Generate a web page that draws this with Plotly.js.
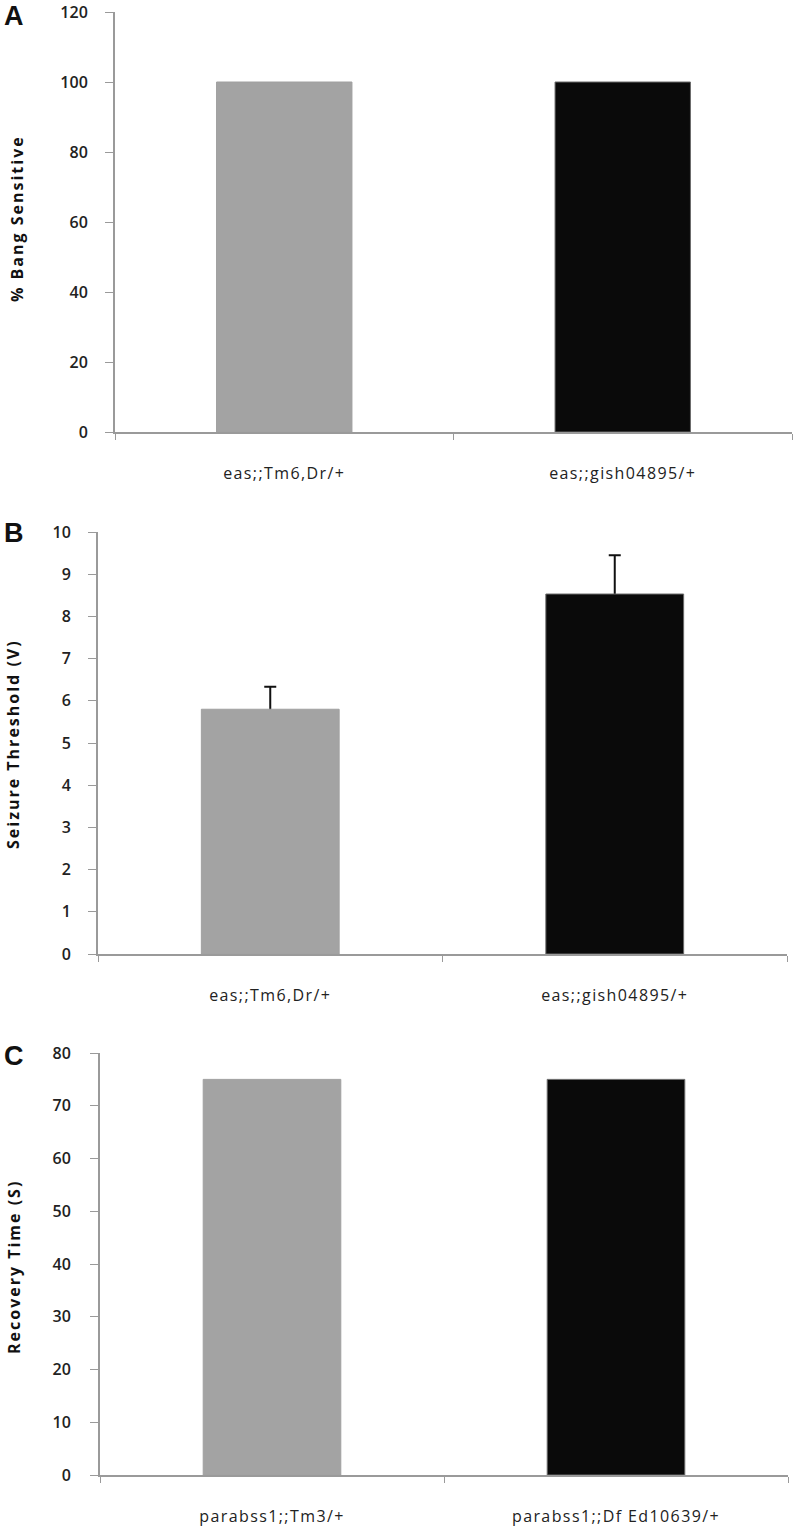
<!DOCTYPE html>
<html><head><meta charset="utf-8">
<script src="https://cdn.plot.ly/plotly-3.0.1.min.js"></script>
<style>
html,body{margin:0;padding:0;background:#fff}
#chart .xtick text, #chart .x2tick text, #chart .x3tick text{letter-spacing:1.4px}
</style>
</head><body>
<div id="chart" style="width:796px;height:1530px"></div>
<script>
const catsA = ["eas;;Tm6,Dr/+", "eas;;gish04895/+"];
const valsA = [100, 100];
const catsB = ["eas;;Tm6,Dr/+", "eas;;gish04895/+"];
const valsB = [5.8, 8.53];
const errB = [0.53, 0.92];
const catsC = ["parabss1;;Tm3/+", "parabss1;;Df Ed10639/+"];
const valsC = [75, 75];
const barColors = ["#a3a3a3", "#0a0a0a"];
const barEdges = ["#a0a0a0", "#6a6a6a"];
const yTitles = ["% Bang Sensitive", "Seizure Threshold (V)", "Recovery Time (S)"];
const panelLetters = ["A", "B", "C"];

const W = 796, H = 1530;
const py = v => 1 - v / H;
const px = v => v / W;

const bar = (x, y, xa, ya) => ({
  type: "bar", x: x, y: y, xaxis: xa, yaxis: ya,
  marker: {color: barColors, line: {color: barEdges, width: 1}},
  width: 0.4, showlegend: false, hoverinfo: "x+y"
});
// error bars drawn first (behind the bars), so only the upper half shows
const errTrace = {
  type: "bar", x: catsB, y: valsB, xaxis: "x2", yaxis: "y2",
  marker: {color: "rgba(0,0,0,0)", line: {width: 0}},
  width: 0.4, showlegend: false, hoverinfo: "skip",
  error_y: {type: "data", array: errB, color: "#111", thickness: 2, width: 6}
};

const data = [
  bar(catsA, valsA, "x", "y"),
  errTrace,
  bar(catsB, valsB, "x2", "y2"),
  bar(catsC, valsC, "x3", "y3")
];

const tickFont = {family: "'Open Sans', Lato, sans-serif", size: 16, color: "#222", weight: 600};
const xFont = {family: "'Open Sans', Lato, sans-serif", size: 16, color: "#222"};

const xAx = (dom, anchor) => ({
  domain: dom, anchor: anchor, type: "category",
  showline: true, linecolor: "#9a9a9a", linewidth: 2,
  ticks: "outside", tickson: "boundaries", ticklen: 6, tickcolor: "#9a9a9a", tickwidth: 1,
  showgrid: false, zeroline: false, tickfont: xFont, ticklabelstandoff: 26,
  ticklabeloverflow: "allow", fixedrange: true
});
const yAx = (dom, anchor, range, dtick, stand) => ({
  domain: dom, anchor: anchor, range: range, dtick: dtick, tick0: 0,
  showline: true, linecolor: "#9a9a9a", linewidth: 2,
  ticks: "outside", ticklen: 8, tickcolor: "#9a9a9a", tickwidth: 1,
  showgrid: false, zeroline: false, tickfont: tickFont, ticklabelstandoff: stand,
  ticklabeloverflow: "allow", fixedrange: true
});

const letterFont = {family: "'Liberation Sans', Arial, sans-serif", size: 27, color: "#111"};
const titleFont = {family: "'Open Sans', Lato, sans-serif", size: 16, color: "#111"};
const letterPos = [16, 533, 1056];
const titlePos = [[17, 219], [13, 744], [14, 1267]];

const annotations = [];
panelLetters.forEach((t, i) => annotations.push({
  text: "<b>" + t + "</b>", x: px(2), y: py(letterPos[i]), xref: "paper", yref: "paper",
  xanchor: "left", yanchor: "middle", showarrow: false, font: letterFont
}));
yTitles.forEach((t, i) => annotations.push({
  text: "<b>" + t + "</b>", x: px(titlePos[i][0]), y: py(titlePos[i][1]), xref: "paper", yref: "paper",
  xanchor: "center", yanchor: "middle", textangle: -90, showarrow: false, font: titleFont
}));

const layout = {
  width: W, height: H,
  margin: {l: 0, r: 0, t: 0, b: 0},
  paper_bgcolor: "#fff", plot_bgcolor: "#fff",
  barmode: "overlay",
  xaxis: xAx([px(115), px(792)], "y"),
  yaxis: yAx([py(432), py(12)], "x", [0, 120], 20, 14),
  xaxis2: xAx([px(98), px(787)], "y2"),
  yaxis2: yAx([py(954), py(532)], "x2", [0, 10], 1, 14),
  xaxis3: xAx([px(100), px(788)], "y3"),
  yaxis3: yAx([py(1475), py(1053)], "x3", [0, 80], 10, 16),
  annotations: annotations
};

Plotly.newPlot("chart", data, layout, {displayModeBar: false, staticPlot: true}).then(() => {
  // widen letter spacing of the rotated axis titles, like the reference
  document.querySelectorAll("#chart .annotation-text").forEach(el => {
    if (el.textContent.length > 2) el.style.letterSpacing = "2px";
  });
});
</script>
</body></html>
